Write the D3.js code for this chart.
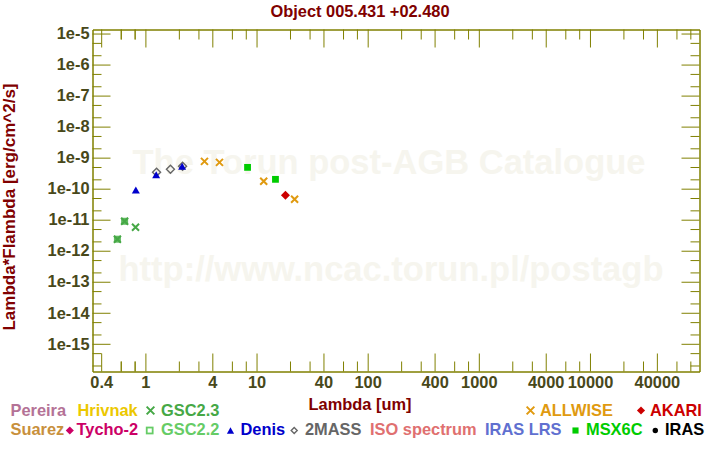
<!DOCTYPE html>
<html><head><meta charset="utf-8">
<script src="https://cdn.jsdelivr.net/npm/d3@7"></script>
<style>
body{margin:0;background:#fff}
svg{display:block}
text{font-family:"Liberation Sans",Arial,sans-serif;font-weight:bold}
</style>
</head><body>
<svg id="c" width="720" height="450"></svg>
<script>
// ---------- data ----------
const title = "Object 005.431 +02.480";
const xTitle = "Lambda [um]";
const yTitle = "Lambda*Flambda [erg/cm^2/s]";
const watermark1 = "The Torun post-AGB Catalogue";
const watermark2 = "http://www.ncac.torun.pl/postagb";

const xTickValues = [0.4, 1, 4, 10, 40, 100, 400, 1000, 4000, 10000, 40000];
const xTickLabels = ["0.4", "1", "4", "10", "40", "100", "400", "1000", "4000", "10000", "40000"];
const yTickValues = [1e-5, 1e-6, 1e-7, 1e-8, 1e-9, 1e-10, 1e-11, 1e-12, 1e-13, 1e-14, 1e-15];
const yTickLabels = ["1e-5", "1e-6", "1e-7", "1e-8", "1e-9", "1e-10", "1e-11", "1e-12", "1e-13", "1e-14", "1e-15"];

// photometry (lambda in um, lambda*F_lambda in erg/cm^2/s)
const gsc22Lambda = [0.56, 0.65];
const gsc22Flux   = [2.35e-12, 8.9e-12];
const gsc23Lambda = [0.56, 0.65, 0.815];
const gsc23Flux   = [2.35e-12, 8.9e-12, 5.7e-12];
const denisLambda = [0.82, 1.25, 2.14];
const denisFlux   = [9.1e-11, 2.8e-10, 5.25e-10];
const twomassLambda = [1.26, 1.68, 2.16];
const twomassFlux   = [3.36e-10, 4.2e-10, 5.3e-10];
const allwiseLambda = [3.4, 4.64, 11.6, 22.0];
const allwiseFlux   = [7.6e-10, 7.05e-10, 1.73e-10, 4.55e-11];
const msxLambda = [8.3, 14.8];
const msxFlux   = [4.86e-10, 2.0e-10];
const akariLambda = [18.2];
const akariFlux   = [6.1e-11];

// legend
const legendNames   = ["Pereira","Hrivnak","GSC2.3","ALLWISE","AKARI",
                       "Suarez","Tycho-2","GSC2.2","Denis","2MASS","ISO spectrum","IRAS LRS","MSX6C","IRAS"];
const legendSymbols = [null,null,"cross","cross","diamond",
                       null,"diamond","opensquare","triangle","opendiamond",null,null,"square","circle"];
const legendColors  = ["#b47296","#ecc800","#46a846","#e09a10","#cc0000",
                       "#c8903c","#cc0066","#66cc66","#0000cc","#666666","#e07070","#6070d0","#00cc00","#000000"];

// ---------- layout / style ----------
const legendRow   = [0,0,0,0,0, 1,1,1,1,1,1,1,1,1];
const legendTextX = [10.5,77.5,161,540,650, 10.5,76.5,161,240.5,305,370,485,586,665];
const legendSymX  = [null,null,150.5,530.5,641, null,69.8,149.7,230.5,294.2,null,null,575.5,655.3];
const rowBase = [415.5, 435];
const rowSym  = [410.5, 430.5];

const AX = "#808000", LAB = "#48481a", DARKRED = "#800000";
const FS = 16.4;

const svg = d3.select("#c");
const L = 92.5, R = 699.5, T = 29.5, B = 371.5;

const x = d3.scaleLog().domain([0.3342, 96740]).range([L, R]);
const y = d3.scaleLog().domain([1.28e-16, 1.35e-5]).range([B, T]);

// watermark
svg.append("text").attr("x", 389).attr("y", 173.5).attr("text-anchor","middle")
  .attr("font-size", 34.5).attr("fill", "#f6f5ee").text(watermark1);
svg.append("text").attr("x", 391).attr("y", 281).attr("text-anchor","middle")
  .attr("font-size", 34.5).attr("fill", "#f6f5ee").text(watermark2);

// minor ticks
const minorX = [];
for (let e = -1; e <= 4; e++) for (const m of [2,3,4,6,8]) {
  const v = m * Math.pow(10, e);
  if (v >= x.domain()[0] && v <= x.domain()[1] && !xTickValues.some(t => Math.abs(t - v) / v < 1e-6)) minorX.push(v);
}
for (const m of [6, 8]) minorX.push(m * 0.1);
const minorY = [];
for (let e = -17; e <= -5; e++) for (const m of [2,5]) {
  const v = m * Math.pow(10, e);
  if (v >= y.domain()[0] && v <= y.domain()[1]) minorY.push(v);
}

function styleAxis(g) {
  g.selectAll("path.domain").attr("stroke", AX).attr("stroke-width", 1);
  g.selectAll(".tick line").attr("stroke", AX).attr("stroke-width", 1);
  g.selectAll(".tick text").attr("fill", LAB).attr("font-size", FS)
    .attr("font-family", "Liberation Sans, Arial, sans-serif").attr("font-weight", "bold");
}

// bottom
svg.append("g").attr("transform", `translate(0,${B})`)
  .call(d3.axisBottom(x).tickValues(minorX).tickSizeInner(-10).tickSizeOuter(0).tickFormat(""))
  .call(styleAxis);
svg.append("g").attr("transform", `translate(0,${B})`)
  .call(d3.axisBottom(x).tickValues(xTickValues).tickSizeInner(-18).tickSizeOuter(0).tickPadding(4.5)
        .tickFormat((d, i) => xTickLabels[i]))
  .call(styleAxis);
// top
svg.append("g").attr("transform", `translate(0,${T})`)
  .call(d3.axisTop(x).tickValues(minorX).tickSizeInner(-10).tickSizeOuter(0).tickFormat(""))
  .call(styleAxis);
svg.append("g").attr("transform", `translate(0,${T})`)
  .call(d3.axisTop(x).tickValues(xTickValues).tickSizeInner(-18).tickSizeOuter(0).tickFormat(""))
  .call(styleAxis);
// left
svg.append("g").attr("transform", `translate(${L},0)`)
  .call(d3.axisLeft(y).tickValues(minorY).tickSizeInner(-9).tickSizeOuter(0).tickFormat(""))
  .call(styleAxis);
svg.append("g").attr("transform", `translate(${L},0)`)
  .call(d3.axisLeft(y).tickValues(yTickValues).tickSizeInner(-18).tickSizeOuter(0).tickPadding(3)
        .tickFormat((d, i) => yTickLabels[i]))
  .call(styleAxis);
// right
svg.append("g").attr("transform", `translate(${R},0)`)
  .call(d3.axisRight(y).tickValues(minorY).tickSizeInner(-9).tickSizeOuter(0).tickFormat(""))
  .call(styleAxis);
svg.append("g").attr("transform", `translate(${R},0)`)
  .call(d3.axisRight(y).tickValues(yTickValues).tickSizeInner(-18).tickSizeOuter(0).tickFormat(""))
  .call(styleAxis);

// titles
svg.append("text").attr("x", 360).attr("y", 16.5).attr("text-anchor","middle")
  .attr("font-size", FS).attr("fill", DARKRED).text(title);
svg.append("text").attr("x", 360).attr("y", 409.5).attr("text-anchor","middle")
  .attr("font-size", FS).attr("fill", DARKRED).text(xTitle);
svg.append("text").attr("transform", "translate(15.3,207) rotate(-90)").attr("text-anchor","middle")
  .attr("font-size", 17).attr("fill", DARKRED).text(yTitle);

// symbol drawer
function drawSymbol(g, type, cx, cy, color, s) {
  s = s || 1;
  if (type === "cross") {
    const h = 3.5 * s;
    g.append("path").attr("d", `M${cx-h},${cy-h}L${cx+h},${cy+h}M${cx-h},${cy+h}L${cx+h},${cy-h}`)
      .attr("stroke", color).attr("stroke-width", 2).attr("fill", "none");
  } else if (type === "diamond") {
    const h = 4.5 * s;
    g.append("path").attr("d", `M${cx},${cy-h}L${cx+h},${cy}L${cx},${cy+h}L${cx-h},${cy}Z`).attr("fill", color);
  } else if (type === "opendiamond") {
    const h = 4 * s;
    g.append("path").attr("d", `M${cx},${cy-h}L${cx+h},${cy}L${cx},${cy+h}L${cx-h},${cy}Z`)
      .attr("fill", "none").attr("stroke", color).attr("stroke-width", 1.4);
  } else if (type === "square") {
    const h = 3.4 * s;
    g.append("rect").attr("x", cx-h).attr("y", cy-h).attr("width", 2*h).attr("height", 2*h).attr("fill", color);
  } else if (type === "opensquare") {
    const h = 3.3 * s;
    g.append("rect").attr("x", cx-h).attr("y", cy-h).attr("width", 2*h).attr("height", 2*h)
      .attr("fill", "none").attr("stroke", color).attr("stroke-width", 1.8);
  } else if (type === "gscsquare") {
    const h = 3.5 * s;
    g.append("rect").attr("x", cx-h).attr("y", cy-h).attr("width", 2*h).attr("height", 2*h).attr("fill", color);
  } else if (type === "triangle") {
    const w = 4 * s, hh = 3.5 * s;
    g.append("path").attr("d", `M${cx},${cy-hh}L${cx+w},${cy+hh}L${cx-w},${cy+hh}Z`).attr("fill", color);
  } else if (type === "circle") {
    g.append("circle").attr("cx", cx).attr("cy", cy).attr("r", 3 * s).attr("fill", color);
  }
}

// points
const pts = svg.append("g");
function series(lams, fluxes, type, color) {
  lams.forEach((l, i) => drawSymbol(pts, type, x(l), y(fluxes[i]), color, 1));
}
series(gsc22Lambda, gsc22Flux, "gscsquare", "#62bb62");
series(gsc23Lambda, gsc23Flux, "cross", "#46a846");
series(twomassLambda, twomassFlux, "opendiamond", "#666666");
series(denisLambda, denisFlux, "triangle", "#0000cc");
series(allwiseLambda, allwiseFlux, "cross", "#e09a10");
series(msxLambda, msxFlux, "square", "#00cc00");
series(akariLambda, akariFlux, "diamond", "#cc0000");

// legend
const lg = svg.append("g");
legendNames.forEach((n, i) => {
  const r = legendRow[i];
  if (legendSymbols[i]) {
    const sc = legendSymbols[i] === "cross" ? 1.1 : (legendSymbols[i] === "opendiamond" ? 0.75 : 0.9);
    drawSymbol(lg, legendSymbols[i], legendSymX[i], rowSym[r], legendColors[i], sc);
  }
  lg.append("text").attr("x", legendTextX[i]).attr("y", rowBase[r])
    .attr("font-size", FS).attr("fill", legendColors[i]).text(n);
});
</script>
</body></html>
